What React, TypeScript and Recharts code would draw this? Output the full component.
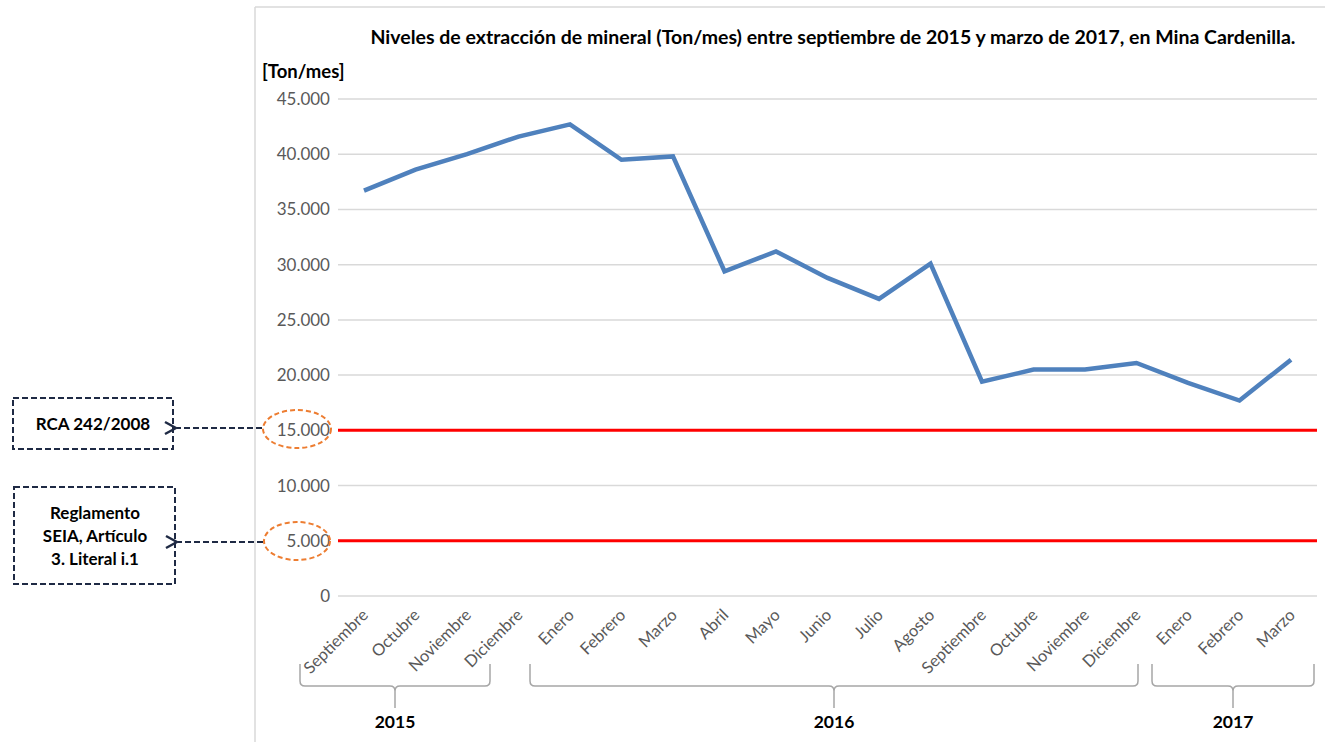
import { CartesianGrid, Line, LineChart, ReferenceLine, XAxis, YAxis } from "recharts";

const months = [
  "Septiembre", "Octubre", "Noviembre", "Diciembre",
  "Enero", "Febrero", "Marzo", "Abril", "Mayo", "Junio", "Julio", "Agosto",
  "Septiembre", "Octubre", "Noviembre", "Diciembre",
  "Enero", "Febrero", "Marzo",
];
const extraccion = [
  36700, 38600, 40000, 41600,
  42700, 39500, 39800, 29400, 31200, 28800, 26900, 30100, 19400, 20500, 20500, 21100,
  19300, 17700, 21400,
];
const yTicks = [0, 5000, 10000, 15000, 20000, 25000, 30000, 35000, 40000, 45000];
const limites = [15000, 5000];
const years = ["2015", "2016", "2017"];

const data = months.map((mes, i) => ({ mes, valor: extraccion[i] }));

const FONT = "Lato, 'Open Sans', sans-serif";
const GRAY = "#595959";
const NAVY = "#1f2a44";
const ORANGE = "#ed7d31";

const fmt = (v: number) => String(v).replace(/\B(?=(\d{3})+(?!\d))/g, ".");

function MonthTick({ x, y, payload }: any) {
  const tx = x + 1;
  const ty = y + 8;
  return (
    <text x={tx} y={ty} transform={`rotate(-45 ${tx} ${ty})`} textAnchor="end" dy="0.35em" fill={GRAY} fontSize={16.5} fontFamily={FONT}>
      {payload.value}
    </text>
  );
}

// hand-drawn braces under the month labels
const braces = [
  { x1: 300, x2: 490, mid: 395 },
  { x1: 530, x2: 1138, mid: 834 },
  { x1: 1152, x2: 1314, mid: 1233 },
];

function bracePath(x1: number, x2: number, mid: number) {
  const top = 664;
  const bot = 686;
  const r = 5;
  return [
    `M${x1},${top} L${x1},${bot - r} Q${x1},${bot} ${x1 + r},${bot}`,
    `L${mid - r},${bot} Q${mid},${bot} ${mid},${bot + r} L${mid},${bot + 22}`,
    `M${mid},${bot + r} Q${mid},${bot} ${mid + r},${bot} L${x2 - r},${bot} Q${x2},${bot} ${x2},${bot - r} L${x2},${top}`,
  ].join(" ");
}

function Overlay() {
  return (
    <svg width={1325} height={742} style={{ position: "absolute", left: 0, top: 0, pointerEvents: "none" }}>
      <defs>
        <marker id="head" markerWidth="16" markerHeight="16" refX="1" refY="8" orient="auto-start-reverse" markerUnits="userSpaceOnUse">
          <polyline points="13,2 2,8 13,14" fill="none" stroke={NAVY} strokeWidth={2.5} />
        </marker>
      </defs>
      <line x1={255} y1={7} x2={1325} y2={7} stroke="#d9d9d9" strokeWidth={1.5} />
      <line x1={255} y1={7} x2={255} y2={742} stroke="#d9d9d9" strokeWidth={1.5} />

      <text x={833} y={44} textAnchor="middle" fontFamily={FONT} fontWeight={700} fontSize={19.5} fill="#000">
        Niveles de extracción de mineral (Ton/mes) entre septiembre de 2015 y marzo de 2017, en Mina Cardenilla.
      </text>
      <text x={262} y={78} fontFamily={FONT} fontWeight={700} fontSize={18.5} fill="#000">
        [Ton/mes]
      </text>

      <ellipse cx={297} cy={429} rx={34} ry={19} fill="none" stroke={ORANGE} strokeWidth={2} strokeDasharray="5 3" />
      <ellipse cx={297} cy={541} rx={33} ry={19} fill="none" stroke={ORANGE} strokeWidth={2} strokeDasharray="5 3" />

      <rect x={13} y={398} width={160} height={51} fill="none" stroke={NAVY} strokeWidth={2} strokeDasharray="6 3" />
      <rect x={14} y={487} width={161} height={97} fill="none" stroke={NAVY} strokeWidth={2} strokeDasharray="6 3" />

      <line x1={262} y1={428} x2={177} y2={428} stroke={NAVY} strokeWidth={2} strokeDasharray="6 3" markerEnd="url(#head)" />
      <line x1={263} y1={542} x2={178} y2={542} stroke={NAVY} strokeWidth={2} strokeDasharray="6 3" markerEnd="url(#head)" />

      <g fontFamily={FONT} fontWeight={700} fontSize={17} fill="#000" textAnchor="middle">
        <text x={93} y={430}>RCA 242/2008</text>
        <text x={95} y={519}>Reglamento</text>
        <text x={95} y={542}>SEIA, Artículo</text>
        <text x={95} y={565}>3. Literal i.1</text>
      </g>

      {braces.map((b, i) => (
        <g key={years[i]}>
          <path d={bracePath(b.x1, b.x2, b.mid)} fill="none" stroke="#a6a6a6" strokeWidth={1.5} />
          <text x={b.mid} y={728} textAnchor="middle" fontFamily={FONT} fontWeight={700} fontSize={17.5} fill="#000">
            {years[i]}
          </text>
        </g>
      ))}
    </svg>
  );
}

export default function App() {
  return (
    <div style={{ position: "absolute", left: 0, top: 0, width: 1325, height: 742, background: "#fff" }}>
      <LineChart width={1325} height={742} data={data} margin={{ top: 99, right: 8, bottom: 0, left: 258 }}>
        <CartesianGrid vertical={false} stroke="#d9d9d9" strokeWidth={1.5} />
        <XAxis
          dataKey="mes"
          axisLine={false}
          tickLine={false}
          height={146}
          interval={0}
          padding={{ left: 26, right: 26 }}
          tick={<MonthTick />}
        />
        <YAxis
          domain={[0, 45000]}
          ticks={yTicks}
          width={80}
          axisLine={false}
          tickLine={false}
          tickFormatter={fmt}
          tick={{ fill: GRAY, fontSize: 17, fontFamily: FONT }}
        />
        {limites.map((v) => (
          <ReferenceLine key={v} y={v} stroke="#ff0000" strokeWidth={3} />
        ))}
        <Line type="linear" dataKey="valor" stroke="#4f81bd" strokeWidth={4.5} dot={false} isAnimationActive={false} />
      </LineChart>
      <Overlay />
    </div>
  );
}
